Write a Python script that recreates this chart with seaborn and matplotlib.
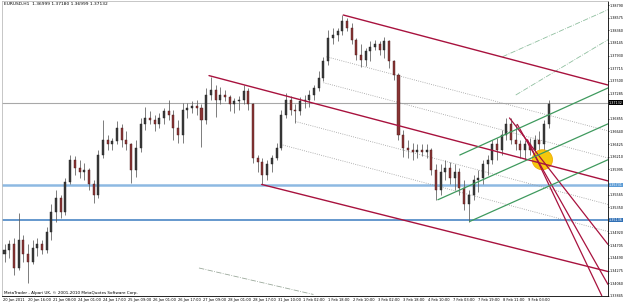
import matplotlib
matplotlib.use("Agg")
import matplotlib.pyplot as plt
import seaborn as sns
import pandas as pd
from matplotlib.patches import Ellipse

sns.set_theme(style="white")
plt.rcParams['font.family'] = ['Liberation Sans Narrow', 'DejaVu Sans Condensed', 'DejaVu Sans']

# ---------------- data (3-hour candles, EURUSD H1 view) ----------------
bar_hours = 3
opens = [1.3455, 1.3463, 1.3472, 1.3432, 1.3480, 1.3455, 1.3443, 1.3466, 1.3472, 1.3463,
         1.3494, 1.3528, 1.3551, 1.3528, 1.3579, 1.3616, 1.3602, 1.3596, 1.3599, 1.3574,
         1.3556, 1.3624, 1.3650, 1.3642, 1.3647, 1.3670, 1.3650, 1.3642, 1.3599, 1.3636,
         1.3676, 1.3687, 1.3684, 1.3676, 1.3687, 1.3698, 1.3692, 1.3670, 1.3658, 1.3701,
         1.3704, 1.3708, 1.3704, 1.3684, 1.3726, 1.3735, 1.3718, 1.3726, 1.3723, 1.3710,
         1.3715, 1.3718, 1.3732, 1.3710, 1.3619, 1.3613, 1.3590, 1.3608, 1.3619, 1.3636,
         1.3692, 1.3718, 1.3701, 1.3698, 1.3715, 1.3718, 1.3726, 1.3738, 1.3755, 1.3783,
         1.3823, 1.3828, 1.3834, 1.3851, 1.3840, 1.3820, 1.3794, 1.3786, 1.3800, 1.3808,
         1.3812, 1.3803, 1.3817, 1.3783, 1.3760, 1.3658, 1.3636, 1.3633, 1.3630, 1.3633,
         1.3630, 1.3633, 1.3599, 1.3565, 1.3596, 1.3602, 1.3585, 1.3596, 1.3568, 1.3540,
         1.3556, 1.3582, 1.3585, 1.3608, 1.3616, 1.3642, 1.3633, 1.3658, 1.3676, 1.3650,
         1.3642, 1.3633, 1.3642, 1.3633, 1.3650, 1.3642, 1.3676]
highs = [1.3472, 1.3480, 1.3483, 1.3526, 1.3488, 1.3472, 1.3480, 1.3483, 1.3480, 1.3502,
         1.3540, 1.3565, 1.3556, 1.3585, 1.3624, 1.3623, 1.3616, 1.3611, 1.3602, 1.3582,
         1.3633, 1.3684, 1.3658, 1.3653, 1.3681, 1.3676, 1.3664, 1.3645, 1.3650, 1.3687,
         1.3706, 1.3698, 1.3692, 1.3696, 1.3704, 1.3718, 1.3701, 1.3684, 1.3713, 1.3713,
         1.3715, 1.3718, 1.3711, 1.3738, 1.3757, 1.3743, 1.3740, 1.3735, 1.3726, 1.3721,
         1.3725, 1.3743, 1.3738, 1.3713, 1.3624, 1.3619, 1.3616, 1.3624, 1.3645, 1.3701,
         1.3730, 1.3725, 1.3710, 1.3723, 1.3726, 1.3735, 1.3743, 1.3766, 1.3791, 1.3837,
         1.3840, 1.3840, 1.3862, 1.3857, 1.3849, 1.3823, 1.3812, 1.3806, 1.3817, 1.3820,
         1.3817, 1.3825, 1.3820, 1.3786, 1.3764, 1.3667, 1.3650, 1.3645, 1.3642, 1.3642,
         1.3642, 1.3636, 1.3608, 1.3608, 1.3616, 1.3613, 1.3608, 1.3602, 1.3582, 1.3565,
         1.3590, 1.3599, 1.3616, 1.3624, 1.3650, 1.3653, 1.3667, 1.3687, 1.3687, 1.3676,
         1.3650, 1.3650, 1.3653, 1.3658, 1.3664, 1.3684, 1.3718]
lows = [1.3443, 1.3449, 1.3420, 1.3429, 1.3443, 1.3407, 1.3438, 1.3453, 1.3455, 1.3458,
        1.3480, 1.3511, 1.3517, 1.3522, 1.3574, 1.3590, 1.3585, 1.3582, 1.3565, 1.3543,
        1.3551, 1.3619, 1.3633, 1.3633, 1.3642, 1.3638, 1.3633, 1.3577, 1.3587, 1.3630,
        1.3667, 1.3676, 1.3664, 1.3670, 1.3676, 1.3684, 1.3650, 1.3645, 1.3645, 1.3687,
        1.3696, 1.3692, 1.3638, 1.3676, 1.3718, 1.3689, 1.3710, 1.3715, 1.3698, 1.3696,
        1.3701, 1.3710, 1.3701, 1.3611, 1.3596, 1.3574, 1.3582, 1.3596, 1.3616, 1.3633,
        1.3687, 1.3692, 1.3679, 1.3692, 1.3704, 1.3706, 1.3718, 1.3732, 1.3749, 1.3777,
        1.3812, 1.3817, 1.3828, 1.3834, 1.3812, 1.3786, 1.3774, 1.3776, 1.3783, 1.3803,
        1.3794, 1.3789, 1.3772, 1.3752, 1.3650, 1.3621, 1.3619, 1.3616, 1.3619, 1.3623,
        1.3619, 1.3590, 1.3548, 1.3556, 1.3582, 1.3574, 1.3565, 1.3556, 1.3531, 1.3511,
        1.3548, 1.3562, 1.3574, 1.3590, 1.3608, 1.3616, 1.3624, 1.3650, 1.3642, 1.3633,
        1.3619, 1.3616, 1.3624, 1.3619, 1.3630, 1.3633, 1.3670]
closes = [1.3463, 1.3472, 1.3432, 1.3480, 1.3455, 1.3443, 1.3466, 1.3472, 1.3463, 1.3494,
          1.3528, 1.3551, 1.3528, 1.3579, 1.3616, 1.3602, 1.3596, 1.3599, 1.3574, 1.3556,
          1.3624, 1.3650, 1.3642, 1.3647, 1.3670, 1.3650, 1.3642, 1.3599, 1.3636, 1.3676,
          1.3687, 1.3684, 1.3676, 1.3687, 1.3698, 1.3692, 1.3670, 1.3658, 1.3701, 1.3704,
          1.3708, 1.3704, 1.3684, 1.3726, 1.3735, 1.3718, 1.3726, 1.3723, 1.3710, 1.3715,
          1.3718, 1.3732, 1.3710, 1.3619, 1.3613, 1.3590, 1.3608, 1.3619, 1.3636, 1.3692,
          1.3718, 1.3701, 1.3698, 1.3715, 1.3718, 1.3726, 1.3738, 1.3755, 1.3783, 1.3823,
          1.3828, 1.3834, 1.3851, 1.3840, 1.3820, 1.3794, 1.3786, 1.3800, 1.3808, 1.3812,
          1.3803, 1.3817, 1.3783, 1.3760, 1.3658, 1.3636, 1.3633, 1.3630, 1.3633, 1.3630,
          1.3633, 1.3599, 1.3565, 1.3596, 1.3602, 1.3585, 1.3596, 1.3568, 1.3540, 1.3556,
          1.3582, 1.3585, 1.3608, 1.3616, 1.3642, 1.3633, 1.3658, 1.3676, 1.3650, 1.3642,
          1.3633, 1.3642, 1.3633, 1.3650, 1.3642, 1.3676, 1.3711]

time_labels = ["20 Jan 2011", "20 Jan 16:00", "21 Jan 08:00", "24 Jan 01:00", "24 Jan 17:00",
               "25 Jan 09:00", "26 Jan 01:00", "26 Jan 17:00", "27 Jan 09:00", "28 Jan 01:00",
               "28 Jan 17:00", "31 Jan 10:00", "1 Feb 02:00", "1 Feb 18:00", "2 Feb 10:00",
               "3 Feb 02:00", "3 Feb 18:00", "4 Feb 10:00", "7 Feb 03:00", "7 Feb 19:00",
               "8 Feb 11:00", "9 Feb 03:00"]
hours_per_label = 16

price_ticks = [1.38790, 1.38575, 1.38360, 1.38145, 1.37930, 1.37715, 1.37500, 1.37285,
               1.37070, 1.36855, 1.36640, 1.36425, 1.36210, 1.35995, 1.35780, 1.35565,
               1.35350, 1.35135, 1.34920, 1.34705, 1.34490, 1.34275, 1.34060, 1.33845]

title_text = "EURUSD,H1  1.36999 1.37180 1.36999 1.37132"
copyright_text = "MetaTrader - Alpari UK, \u00a9 2001-2010 MetaQuotes Software Corp."

bid_price = 1.37132
support_levels = [1.35731, 1.35136]

# trend objects: (hour index, price) anchor pairs
red_channel = [((131.8, 1.3759), (387, 1.3580)),
               ((217.7, 1.3862), (387, 1.3743)),
               ((165.5, 1.3574), (387, 1.3426))]
red_fan = [((324.0, 1.3687), (387, 1.3472)),
           ((329.0, 1.3676), (387, 1.3404)),
           ((335.5, 1.3650), (383, 1.3385))]
green_channel = [((298.5, 1.3511), (387, 1.3616)),
                 ((278.2, 1.3548), (387, 1.3677)),
                 ((292.2, 1.3624), (387, 1.3738))]
dotted_levels = [((206.9, 1.3791), (387, 1.3665)),
                 ((205.0, 1.3747), (387, 1.3619)),
                 ((187.1, 1.3681), (387, 1.3540)),
                 ((177.6, 1.3642), (387, 1.3494))]
dashdot_green = [((319.5, 1.3791), (387, 1.3871)),
                 ((328.0, 1.3726), (387, 1.3820))]
dashdot_gray = [((125.4, 1.3432), (198.6, 1.3387))]
marker_time, marker_price = 345.0, 1.3616

# ---------------- figure ----------------
FS = 2.6
FSY = 2.4
fig = plt.figure(figsize=(6.25, 3.03), dpi=100)
fig.patch.set_facecolor("white")
ax = fig.add_axes([2 / 625, 7 / 303, 606 / 625, 295 / 303])
ax.set_facecolor("white")

df = pd.DataFrame({"open": opens, "high": highs, "low": lows, "close": closes})
df["t"] = df.index * bar_hours + 1
up = df["close"] >= df["open"]

ax.vlines(df["t"], df["low"], df["high"], color="#5a5a5a", lw=0.55, zorder=3)
ax.bar(df["t"][up], (df["close"] - df["open"])[up], bottom=df["open"][up], width=1.3,
       color="#3c3c3c", edgecolor="#1e1e1e", linewidth=0.3, zorder=4)
ax.bar(df["t"][~up], (df["open"] - df["close"])[~up], bottom=df["close"][~up], width=1.3,
       color="#8a3434", edgecolor="#4a1c1c", linewidth=0.3, zorder=4)

# horizontal levels
ax.axhline(bid_price, color="#a8a8a8", lw=0.8, zorder=2)
ax.axhline(support_levels[0], color="#8db9e2", lw=1.8, zorder=2)
ax.axhline(support_levels[1], color="#4a86c5", lw=1.2, zorder=2)

def draw(lines, color, lw, ls, z):
    for (t0, p0), (t1, p1) in lines:
        sns.lineplot(x=[t0, t1], y=[p0, p1], ax=ax, color=color, lw=lw,
                     linestyle=ls, zorder=z, legend=False)

draw(dotted_levels, "#9a9a9a", 0.6, ":", 2)
draw(dashdot_green, "#8fbf9f", 0.6, "-.", 2)
draw(dashdot_gray, "#9aa89a", 0.6, "-.", 2)

ax.add_patch(Ellipse((marker_time, marker_price), 13.0, 0.0034, facecolor="#f6c400",
                     edgecolor="#f0a800", lw=0.6, zorder=5, alpha=0.95))

draw(red_channel, "#a8123e", 1.0, "-", 6)
draw(red_fan, "#a8123e", 0.9, "-", 6)
draw(green_channel, "#3f9a5e", 0.9, "-", 6)

# axes
ax.set_xlim(-0.6, 387)
ax.set_ylim(1.33844, 1.38858)
ax.set_xlabel("")
ax.set_ylabel("")
ax.yaxis.tick_right()
highlighted = [bid_price] + support_levels
shown_ticks = [p for p in price_ticks if min(abs(p - h) for h in highlighted) > 0.0009]
ax.set_yticks(shown_ticks)
ax.set_yticklabels([f"{p:.5f}" for p in shown_ticks], fontsize=FSY, color="black")
ax.set_xticks([i * hours_per_label for i in range(len(time_labels))])
ax.set_xticklabels(time_labels, fontsize=FS, color="black", ha="left")
ax.tick_params(axis="both", length=1.0, width=0.5, pad=0.4, color="black")
for side in ["top", "left"]:
    ax.spines[side].set_color("#bdbdbd")
    ax.spines[side].set_linewidth(0.6)
for side in ["right", "bottom"]:
    ax.spines[side].set_color("black")
    ax.spines[side].set_linewidth(0.6)

# highlighted price labels on the scale
def scale_label(price, bg, fg):
    ax.text(1.0015, price, f"{price:.5f}", transform=ax.get_yaxis_transform(),
            fontsize=FSY, color=fg, va="center", ha="left", zorder=10,
            bbox=dict(boxstyle="square,pad=0.08", facecolor=bg, edgecolor="none"),
            clip_on=False)

scale_label(bid_price, "black", "white")
scale_label(support_levels[0], "#5b9bd5", "white")
scale_label(support_levels[1], "#2f6fb5", "white")

ax.text(0.003, 0.995, title_text, transform=ax.transAxes, fontsize=3.2,
        color="black", va="top", ha="left")
ax.text(0.003, 0.005, copyright_text, transform=ax.transAxes, fontsize=3.0,
        color="black", va="bottom", ha="left")

fig.savefig("out.png", dpi=100, facecolor="white")
